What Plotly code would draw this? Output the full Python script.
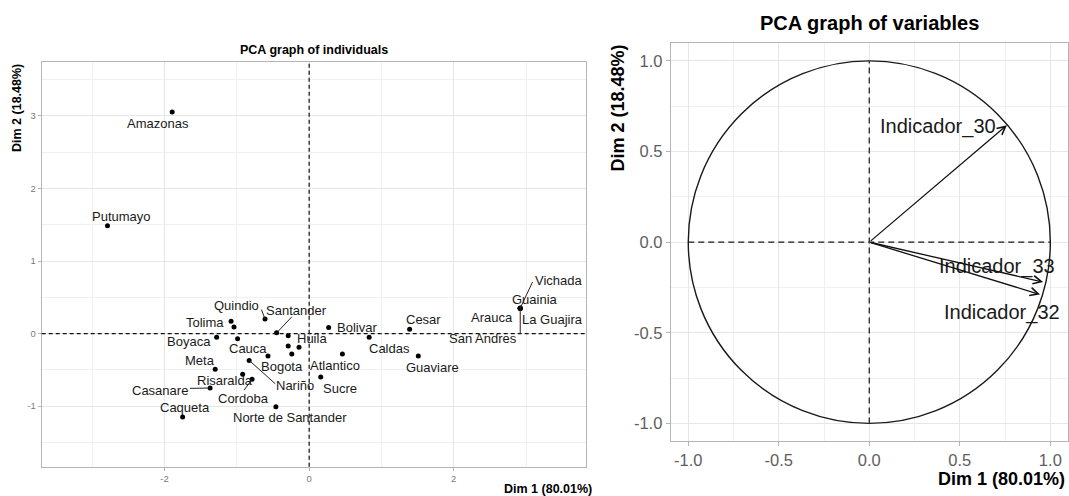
import plotly.graph_objects as go

# ---------------- data ----------------
# Individuals (PCA coordinates, Dim1, Dim2); "" = point without a label
ind_names = ["Amazonas", "Putumayo", "Quindio", "Santander", "Tolima", "", "Boyaca", "",
             "Huila", "", "", "Bogota", "Cauca", "Nariño", "Bolivar", "Atlantico", "Sucre",
             "Meta", "Risaralda", "Cordoba", "Casanare", "Caqueta", "Norte de Santander",
             "Caldas", "Cesar", "Guaviare",
             "Vichada", "Guainia", "Arauca", "La Guajira", "San Andres"]
ind_dim1 = [-1.895, -2.79, -0.61, -0.45, -1.08, -1.04, -1.28, -0.99,
            -0.29, -0.29, -0.14, -0.24, -0.57, -0.83, 0.27, 0.46, 0.16,
            -1.30, -0.92, -0.79, -1.37, -1.75, -0.46,
            0.83, 1.39, 1.51,
            2.92, 2.92, 2.92, 2.92, 2.92]
ind_dim2 = [3.055, 1.485, 0.20, 0.01, 0.17, 0.09, -0.05, -0.07,
            -0.03, -0.17, -0.19, -0.28, -0.31, -0.37, 0.085, -0.28, -0.60,
            -0.49, -0.56, -0.63, -0.75, -1.15, -1.01,
            -0.05, 0.06, -0.31,
            0.35, 0.35, 0.35, 0.35, 0.35]

# Variables (correlation circle)
var_names = ["Indicador_30", "Indicador_33", "Indicador_32"]
var_dim1 = [0.76, 0.96, 0.943]
var_dim2 = [0.645, -0.22, -0.289]

dim1_label = "Dim 1 (80.01%)"
dim2_label = "Dim 2 (18.48%)"

# tick labels
ind_x_ticks = [-2, 0, 2]
ind_x_ticktext = ["-2", "0", "2"]
ind_y_ticks = [-1, 0, 1, 2, 3]
ind_y_ticktext = ["-1", "0", "1", "2", "3"]
var_ticks = [-1.0, -0.5, 0.0, 0.5, 1.0]
var_ticktext = ["-1.0", "-0.5", "0.0", "0.5", "1.0"]

# ---------------- label placement (layout, repelled label centres) ----------------
ind_label_pos = {
    "Amazonas": (-2.09, 2.895), "Putumayo": (-2.59, 1.62), "Quindio": (-1.0, 0.39),
    "Santander": (-0.17, 0.32), "Tolima": (-1.44, 0.15), "Boyaca": (-1.66, -0.11),
    "Cauca": (-0.84, -0.21), "Huila": (0.04, -0.07), "Bogota": (-0.38, -0.46),
    "Atlantico": (0.36, -0.44), "Meta": (-1.51, -0.365), "Risaralda": (-1.16, -0.64),
    "Nariño": (-0.19, -0.72), "Sucre": (0.43, -0.755), "Casanare": (-2.06, -0.78),
    "Cordoba": (-0.91, -0.89), "Caqueta": (-1.72, -1.02), "Norte de Santander": (-0.26, -1.15),
    "Bolivar": (0.66, 0.085), "Caldas": (1.11, -0.20), "Cesar": (1.58, 0.19),
    "Guaviare": (1.71, -0.465), "Vichada": (3.45, 0.73), "Guainia": (3.13, 0.47),
    "Arauca": (2.535, 0.22), "La Guajira": (3.37, 0.19), "San Andres": (2.41, -0.07),
}
# leader segment end (label side) for labels drawn with a segment
ind_leader_end = {
    "Quindio": (-0.66, 0.33), "Santander": (-0.24, 0.23), "Nariño": (-0.47, -0.69),
    "Casanare": (-1.65, -0.755), "Cordoba": (-0.90, -0.78), "Vichada": (3.09, 0.71),
    "San Andres": (2.92, -0.007),
}
var_label_pos = {"Indicador_30": (0.38, 0.64), "Indicador_33": (0.703, -0.133),
                 "Indicador_32": (0.733, -0.387)}

FONT = "Liberation Sans, Arial, sans-serif"
W, H = 1069, 496

fig = go.Figure()

# individuals points
fig.add_trace(go.Scatter(x=ind_dim1, y=ind_dim2, mode="markers",
                         marker=dict(color="black", size=5), text=ind_names,
                         hoverinfo="text+x+y", xaxis="x", yaxis="y", showlegend=False))

shapes = []
annotations = []

# dashed zero lines left
shapes.append(dict(type="line", xref="x domain", yref="y", x0=0, x1=1, y0=0, y1=0,
                   line=dict(color="#111111", width=1.2, dash="4px,3px")))
shapes.append(dict(type="line", xref="x", yref="y domain", x0=0, x1=0, y0=0, y1=1,
                   line=dict(color="#111111", width=1.2, dash="4px,3px")))

for name, x, y in zip(ind_names, ind_dim1, ind_dim2):
    if not name:
        continue
    lx, ly = ind_label_pos[name]
    if name in ind_leader_end:
        ex, ey = ind_leader_end[name]
        shapes.append(dict(type="line", xref="x", yref="y", x0=x, y0=y, x1=ex, y1=ey,
                           line=dict(color="#222222", width=1)))
    annotations.append(dict(x=lx, y=ly, xref="x", yref="y", text=name, showarrow=False,
                            font=dict(family=FONT, size=13, color="#1a1a1a")))

# right panel: circle and dashed axes
shapes.append(dict(type="circle", xref="x2", yref="y2", x0=-1, y0=-1, x1=1, y1=1,
                   line=dict(color="#1a1a1a", width=1.4)))
shapes.append(dict(type="line", xref="x2", yref="y2", x0=-1, x1=1, y0=0, y1=0,
                   line=dict(color="#1a1a1a", width=1.4, dash="6px,4px")))
shapes.append(dict(type="line", xref="x2", yref="y2", x0=0, x1=0, y0=-1, y1=1,
                   line=dict(color="#333333", width=1.4, dash="6px,4px")))

for name, x, y in zip(var_names, var_dim1, var_dim2):
    annotations.append(dict(x=x, y=y, ax=0, ay=0, xref="x2", yref="y2", axref="x2", ayref="y2",
                            text="", showarrow=True, arrowhead=5, arrowsize=1.25,
                            arrowwidth=1.3, arrowcolor="#111111", standoff=0))
    lx, ly = var_label_pos[name]
    annotations.append(dict(x=lx, y=ly, xref="x2", yref="y2", text=name, showarrow=False,
                            font=dict(family=FONT, size=20, color="#1a1a1a")))

# titles and axis titles (paper coords from pixels)
def px(xp):
    return xp / W

def py(yp):
    return 1 - yp / H

annotations += [
    dict(x=px(313.7), y=py(50), xref="paper", yref="paper", text="<b>PCA graph of individuals</b>",
         showarrow=False, font=dict(family=FONT, size=12.5, color="black"), xanchor="center", yanchor="middle"),
    dict(x=px(594), y=py(488.5), xref="paper", yref="paper", text="<b>" + dim1_label + "</b>",
         showarrow=False, font=dict(family=FONT, size=12.5, color="black"), xanchor="right", yanchor="middle"),
    dict(x=px(17), y=py(62), xref="paper", yref="paper", text="<b>" + dim2_label + "</b>", textangle=-90,
         showarrow=False, font=dict(family=FONT, size=12.5, color="black"), xanchor="center", yanchor="top"),
    dict(x=px(869), y=py(22.7), xref="paper", yref="paper", text="<b>PCA graph of variables</b>",
         showarrow=False, font=dict(family=FONT, size=20, color="black"), xanchor="center", yanchor="middle"),
    dict(x=px(1067), y=py(479.3), xref="paper", yref="paper", text="<b>" + dim1_label + "</b>",
         showarrow=False, font=dict(family=FONT, size=18, color="black"), xanchor="right", yanchor="middle"),
    dict(x=px(618), y=py(43), xref="paper", yref="paper", text="<b>" + dim2_label + "</b>", textangle=-90,
         showarrow=False, font=dict(family=FONT, size=18, color="black"), xanchor="center", yanchor="top"),
]

grid_major = "#e6e6e6"
grid_minor = "#f0f0f0"
border = "#b5b5b5"

common = dict(showline=True, linecolor=border, linewidth=1, mirror=True, zeroline=False,
              showgrid=True, gridcolor=grid_major, gridwidth=1, ticks="outside",
              tickcolor=border)

fig.update_layout(
    width=W, height=H, margin=dict(l=0, r=0, t=0, b=0),
    paper_bgcolor="white", plot_bgcolor="white", showlegend=False,
    xaxis=dict(domain=[41.7 / W, 586 / W], anchor="y", range=[-3.70, 3.83],
               tickmode="array", tickvals=ind_x_ticks, ticktext=ind_x_ticktext, ticklen=3,
               minor=dict(dtick=1, tick0=0, showgrid=True, gridcolor=grid_minor, ticks=""),
               tickfont=dict(family=FONT, size=9.5, color="#7a7a7a"), **common),
    yaxis=dict(domain=[1 - 466.7 / H, 1 - 62.3 / H], anchor="x", range=[-1.835, 3.74],
               tickmode="array", tickvals=ind_y_ticks, ticktext=ind_y_ticktext, ticklen=3,
               minor=dict(dtick=0.5, tick0=0, showgrid=True, gridcolor=grid_minor, ticks=""),
               tickfont=dict(family=FONT, size=9.5, color="#7a7a7a"), **common),
    xaxis2=dict(domain=[670.7 / W, 1067.9 / W], anchor="y2", range=[-1.097, 1.097],
                tickmode="array", tickvals=var_ticks, ticktext=var_ticktext, ticklen=4,
                minor=dict(dtick=0.25, tick0=0, showgrid=True, gridcolor=grid_minor, ticks=""),
                tickfont=dict(family=FONT, size=16.5, color="#5e5e5e"), **common),
    yaxis2=dict(domain=[1 - 441 / H, 1 - 43.3 / H], anchor="x2", range=[-1.097, 1.097],
                tickmode="array", tickvals=var_ticks, ticktext=var_ticktext, ticklen=4,
                minor=dict(dtick=0.25, tick0=0, showgrid=True, gridcolor=grid_minor, ticks=""),
                tickfont=dict(family=FONT, size=16.5, color="#5e5e5e"), **common),
    shapes=shapes, annotations=annotations,
)

# invisible trace to activate second axes
fig.add_trace(go.Scatter(x=var_dim1, y=var_dim2, mode="markers", marker=dict(size=1, opacity=0),
                         text=var_names, hoverinfo="text", xaxis="x2", yaxis="y2", showlegend=False))

fig.write_html("out.html")
